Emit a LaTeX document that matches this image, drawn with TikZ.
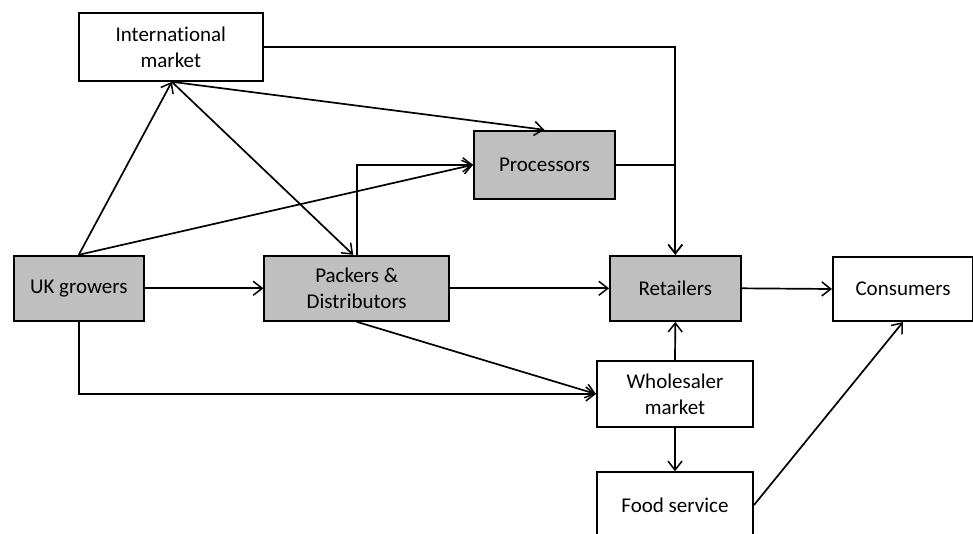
\documentclass[tikz,border=0pt]{standalone}
\usepackage{fontspec}
\setmainfont[Ligatures={NoCommon,NoContextual}]{Carlito}
\usetikzlibrary{arrows.meta}
\definecolor{boxgray}{RGB}{191,191,191}
\tikzset{
  base/.style={draw=black, line width=2pt, rectangle, align=center, inner sep=0pt,
    font=\fontsize{21}{26}\selectfont, text=black},
  whitebox/.style={base, fill=white},
  graybox/.style={base, fill=boxgray},
  conn/.style={line width=1.7pt, -{Straight Barb[length=9pt,width=14pt,line width=1.5pt]}}
}
\begin{document}
\begin{tikzpicture}[x=1pt,y=-1pt]
\useasboundingbox (0,0) rectangle (973,533);
\clip (0,0) rectangle (973,533);
\node[whitebox, minimum width=184pt, minimum height=68pt] (intl) at (170.8,46.8) {International\\market};
\node[graybox, minimum width=141pt, minimum height=68pt] (proc) at (544.5,164.8) {Processors};
\node[graybox, minimum width=130.5pt, minimum height=65pt] (uk) at (78.8,288.3) {UK growers};
\node[graybox, minimum width=184.6pt, minimum height=65pt] (pack) at (356.7,288.3) {Packers \&\\Distributors};
\node[graybox, minimum width=130.5pt, minimum height=65pt] (ret) at (675.3,288.3) {Retailers};
\node[whitebox, minimum width=140pt, minimum height=64pt] (cons) at (903,289) {Consumers};
\node[whitebox, minimum width=156pt, minimum height=65.4pt] (whole) at (675,394) {Wholesaler\\market};
\node[whitebox, minimum width=156pt, minimum height=65.4pt] (food) at (675,505) {Food service};

\coordinate (intlb) at ([xshift=1pt]intl.south);
\coordinate (packin) at ([xshift=-3.5pt]pack.north);
\draw[conn] (uk.north) -- (intlb);
\draw[conn] (intlb) -- (proc.north);
\draw[conn] (intlb) -- (packin);
\draw[conn] (pack.north) |- (proc.west);
\draw[conn] (uk.north) -- (proc.west);
\draw[conn] (intl.east) -| (ret.north);
\draw[conn] (proc.east) -| (ret.north);
\draw[conn] (uk.east) -- (pack.west);
\draw[conn] (pack.east) -- (ret.west);
\draw[conn] (ret.east) -- (cons.west);
\draw[conn] (pack.south) -- (whole.west);
\draw[conn] (uk.south) |- (whole.west);
\draw[conn] (whole.north) -- (ret.south);
\draw[conn] (whole.south) -- (food.north);
\draw[conn] (food.east) -- (cons.south);
\end{tikzpicture}
\end{document}
